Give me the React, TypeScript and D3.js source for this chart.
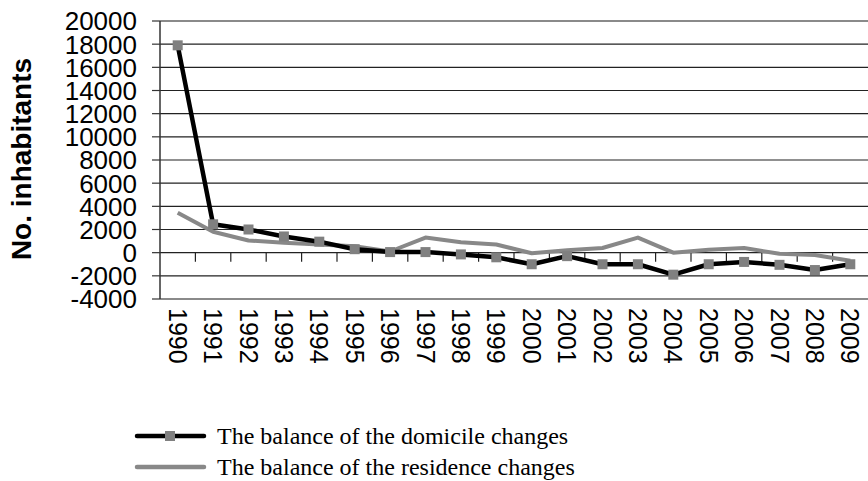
import { FC, useRef, useEffect } from 'react'
import * as d3 from 'd3'

const years = [
  '1990', '1991', '1992', '1993', '1994', '1995', '1996', '1997', '1998', '1999',
  '2000', '2001', '2002', '2003', '2004', '2005', '2006', '2007', '2008', '2009',
]

// balance of the domicile changes (black line, square markers)
const domicile = [
  17900, 2450, 2000, 1400, 950, 300, 50, 50, -150, -400,
  -1000, -300, -1000, -1000, -1900, -1000, -800, -1050, -1500, -1000,
]

// balance of the residence changes (grey line)
const residence = [
  3450, 1800, 1050, 850, 700, 550, 100, 1300, 900, 700,
  -50, 200, 400, 1300, 0, 250, 400, -100, -200, -700,
]

const yTicks = [-4000, -2000, 0, 2000, 4000, 6000, 8000, 10000, 12000, 14000, 16000, 18000, 20000]

const legendItems = [
  { label: 'The balance of the domicile changes', color: '#000', marker: true },
  { label: 'The balance of the residence changes', color: '#888', marker: false },
]

const App: FC = () => {
  const svgRef = useRef<SVGSVGElement>(null)

  useEffect(() => {
    if (!svgRef.current) return

    const svg = d3.select(svgRef.current)
    svg.selectAll('*').remove()

    const width = 868
    const height = 481
    const left = 160
    const right = 868
    const top = 21
    const bottom = 299

    svg.attr('width', width).attr('height', height)

    const x = d3.scaleBand().domain(years).range([left, right])
    const y = d3.scaleLinear().domain([-4000, 20000]).range([bottom, top])

    // gridlines
    svg.append('g')
      .selectAll('line')
      .data(yTicks.filter(t => t !== -4000 && t !== 20000))
      .join('line')
      .attr('x1', left)
      .attr('x2', right)
      .attr('y1', d => y(d))
      .attr('y2', d => y(d))
      .attr('stroke', '#222')
      .attr('stroke-width', 1.2)

    // top and bottom border
    svg.append('g')
      .selectAll('line')
      .data([-4000, 20000])
      .join('line')
      .attr('x1', left)
      .attr('x2', right)
      .attr('y1', d => y(d))
      .attr('y2', d => y(d))
      .attr('stroke', '#8a8a8a')
      .attr('stroke-width', 2)

    // y axis line + ticks
    svg.append('line')
      .attr('x1', left).attr('x2', left)
      .attr('y1', top).attr('y2', bottom)
      .attr('stroke', '#333')
      .attr('stroke-width', 1.5)

    svg.append('g')
      .selectAll('line')
      .data(yTicks)
      .join('line')
      .attr('x1', left - 8)
      .attr('x2', left)
      .attr('y1', d => y(d))
      .attr('y2', d => y(d))
      .attr('stroke', '#333')
      .attr('stroke-width', 1.2)

    svg.append('g')
      .selectAll('text')
      .data(yTicks)
      .join('text')
      .attr('x', 137)
      .attr('y', d => y(d))
      .attr('dy', '0.36em')
      .attr('text-anchor', 'end')
      .attr('font-family', 'Liberation Sans, Arial, sans-serif')
      .attr('font-size', '26px')
      .attr('fill', '#000')
      .text(d => String(d))

    // category ticks on zero line
    svg.append('g')
      .selectAll('line')
      .data(years.slice(1))
      .join('line')
      .attr('x1', d => x(d)!)
      .attr('x2', d => x(d)!)
      .attr('y1', y(0))
      .attr('y2', y(0) + 9)
      .attr('stroke', '#222')
      .attr('stroke-width', 1.2)

    // category labels rotated
    svg.append('g')
      .selectAll('text')
      .data(years)
      .join('text')
      .attr('transform', d => `translate(${x(d)! + x.bandwidth() / 2}, 308) rotate(90)`)
      .attr('dy', '0.36em')
      .attr('font-family', 'Liberation Sans, Arial, sans-serif')
      .attr('font-size', '25px')
      .attr('fill', '#000')
      .text(d => d)

    // axis title
    svg.append('text')
      .attr('transform', `translate(31, 159) rotate(-90)`)
      .attr('text-anchor', 'middle')
      .attr('font-family', 'Liberation Sans, Arial, sans-serif')
      .attr('font-weight', 'bold')
      .attr('font-size', '28px')
      .attr('fill', '#000')
      .text('No. inhabitants')

    const line = d3.line<number>()
      .x((_, i) => x(years[i])! + x.bandwidth() / 2)
      .y(d => y(d))

    svg.append('path')
      .datum(residence)
      .attr('d', line)
      .attr('fill', 'none')
      .attr('stroke', '#888')
      .attr('stroke-width', 4)
      .attr('stroke-linejoin', 'round')

    svg.append('path')
      .datum(domicile)
      .attr('d', line)
      .attr('fill', 'none')
      .attr('stroke', '#000')
      .attr('stroke-width', 4.5)
      .attr('stroke-linejoin', 'round')

    svg.append('g')
      .selectAll('rect')
      .data(domicile)
      .join('rect')
      .attr('x', (_, i) => x(years[i])! + x.bandwidth() / 2 - 5)
      .attr('y', d => y(d) - 5)
      .attr('width', 10)
      .attr('height', 10)
      .attr('fill', '#808080')

    // legend
    const legend = svg.append('g')
    legendItems.forEach((item, i) => {
      const ly = 436 + i * 31
      legend.append('line')
        .attr('x1', 137).attr('x2', 204)
        .attr('y1', ly).attr('y2', ly)
        .attr('stroke', item.color)
        .attr('stroke-width', 4.5)
        .attr('stroke-linecap', 'round')
      if (item.marker) {
        legend.append('rect')
          .attr('x', 165).attr('y', ly - 5)
          .attr('width', 10).attr('height', 10)
          .attr('fill', '#808080')
      }
      legend.append('text')
        .attr('x', 217)
        .attr('y', ly + 8)
        .attr('font-family', 'Liberation Serif, Times New Roman, serif')
        .attr('font-size', '24px')
        .attr('fill', '#000')
        .text(item.label)
    })
  }, [])

  return (
    <div style={{ position: 'absolute', left: 0, top: 0 }}>
      <svg ref={svgRef} style={{ display: 'block' }} />
    </div>
  )
}

export default App
